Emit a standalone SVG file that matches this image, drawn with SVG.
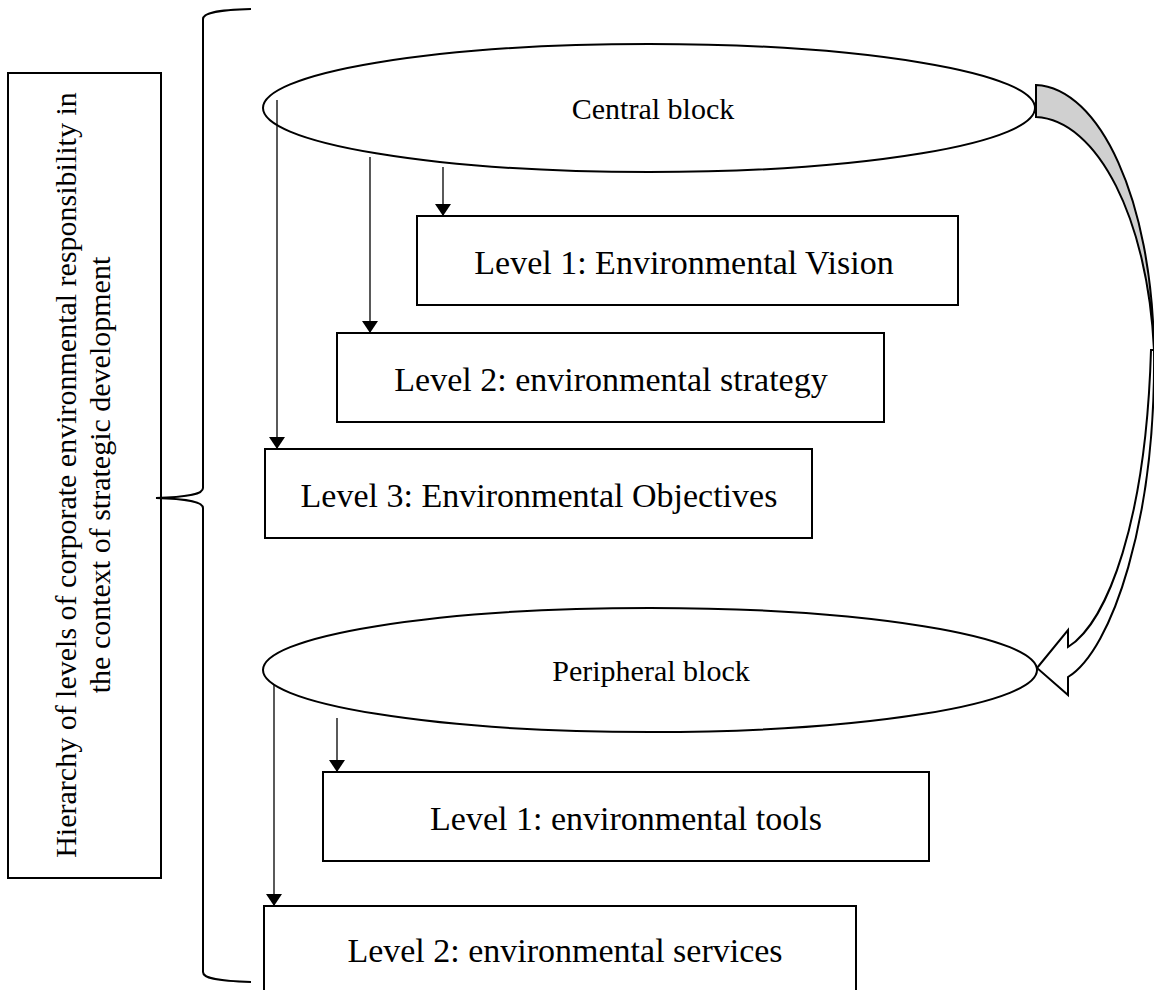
<svg xmlns="http://www.w3.org/2000/svg" width="1154" height="990" viewBox="0 0 1154 990">
<style>
.box{fill:#fff;stroke:#000;stroke-width:2}
.ell{fill:#fff;stroke:#000;stroke-width:2}
.t{font-family:"Liberation Serif","Times New Roman",serif;font-size:30px;fill:#000;text-anchor:middle}
.b{font-size:34px}
.c{stroke:#000;stroke-width:1.3;fill:none;marker-end:url(#ah)}
</style>
<defs>
<marker id="ah" viewBox="0 0 12 16" refX="12" refY="8" markerWidth="12" markerHeight="16" markerUnits="userSpaceOnUse" orient="auto">
<path d="M0,0 L12,8 L0,16 Z" fill="#000"/>
</marker>
</defs>
<rect width="1154" height="990" fill="#fff"/>
<g id="side-label">
<rect class="box" x="8" y="73" width="153" height="805"/>
<text class="t" transform="translate(76,475) rotate(-90)">Hierarchy of levels of corporate environmental responsibility in</text>
<text class="t" transform="translate(110,475) rotate(-90)">the context of strategic development</text>
</g>
<g id="brace">
<path d="M251,9 C215,10 203,13 203,19 L203,488 C203,494 190,497 156,498 C190,499 203,502 203,508 L203,972 C203,978 215,981 251,982" fill="none" stroke="#000" stroke-width="2"/>
</g>
<g id="central">
<ellipse class="ell" cx="649" cy="108" rx="386" ry="64"/>
<text class="t" x="653" y="119">Central block</text>
</g>
<g id="c-level1">
<rect class="box" x="417" y="216" width="541" height="89"/>
<text class="t b" x="684" y="274">Level 1: Environmental Vision</text>
</g>
<g id="c-level2">
<rect class="box" x="337" y="333" width="547" height="89"/>
<text class="t b" x="611" y="391">Level 2: environmental strategy</text>
</g>
<g id="c-level3">
<rect class="box" x="265" y="449" width="547" height="89"/>
<text class="t b" x="539" y="507">Level 3: Environmental Objectives</text>
</g>
<g id="peripheral">
<ellipse class="ell" cx="650" cy="670" rx="387" ry="62"/>
<text class="t" x="651" y="681">Peripheral block</text>
</g>
<g id="p-level1">
<rect class="box" x="323" y="772" width="606" height="89"/>
<text class="t b" x="626" y="830">Level 1: environmental tools</text>
</g>
<g id="p-level2">
<rect class="box" x="264" y="906" width="592" height="100"/>
<text class="t b" x="565" y="962">Level 2: environmental services</text>
</g>
<g id="connectors">
<line class="c" x1="277" y1="100" x2="277" y2="449"/>
<line class="c" x1="370" y1="157" x2="370" y2="333"/>
<line class="c" x1="443" y1="167" x2="443" y2="216"/>
<line class="c" x1="274" y1="685" x2="274" y2="906"/>
<line class="c" x1="337" y1="718" x2="337" y2="772"/>
<path d="M1036,85 C1100,88 1152,200 1154,350 C1148,220 1098,120 1036,117 Z" fill="#d0d0d0" stroke="#000" stroke-width="2"/>
<path d="M1154,350 C1156,520 1112,650 1068,677 L1068,695 L1037,668 L1068,630 L1068,647 C1108,622 1146,520 1151,350 Z" fill="#fff" stroke="#000" stroke-width="2"/>
</g>
</svg>
